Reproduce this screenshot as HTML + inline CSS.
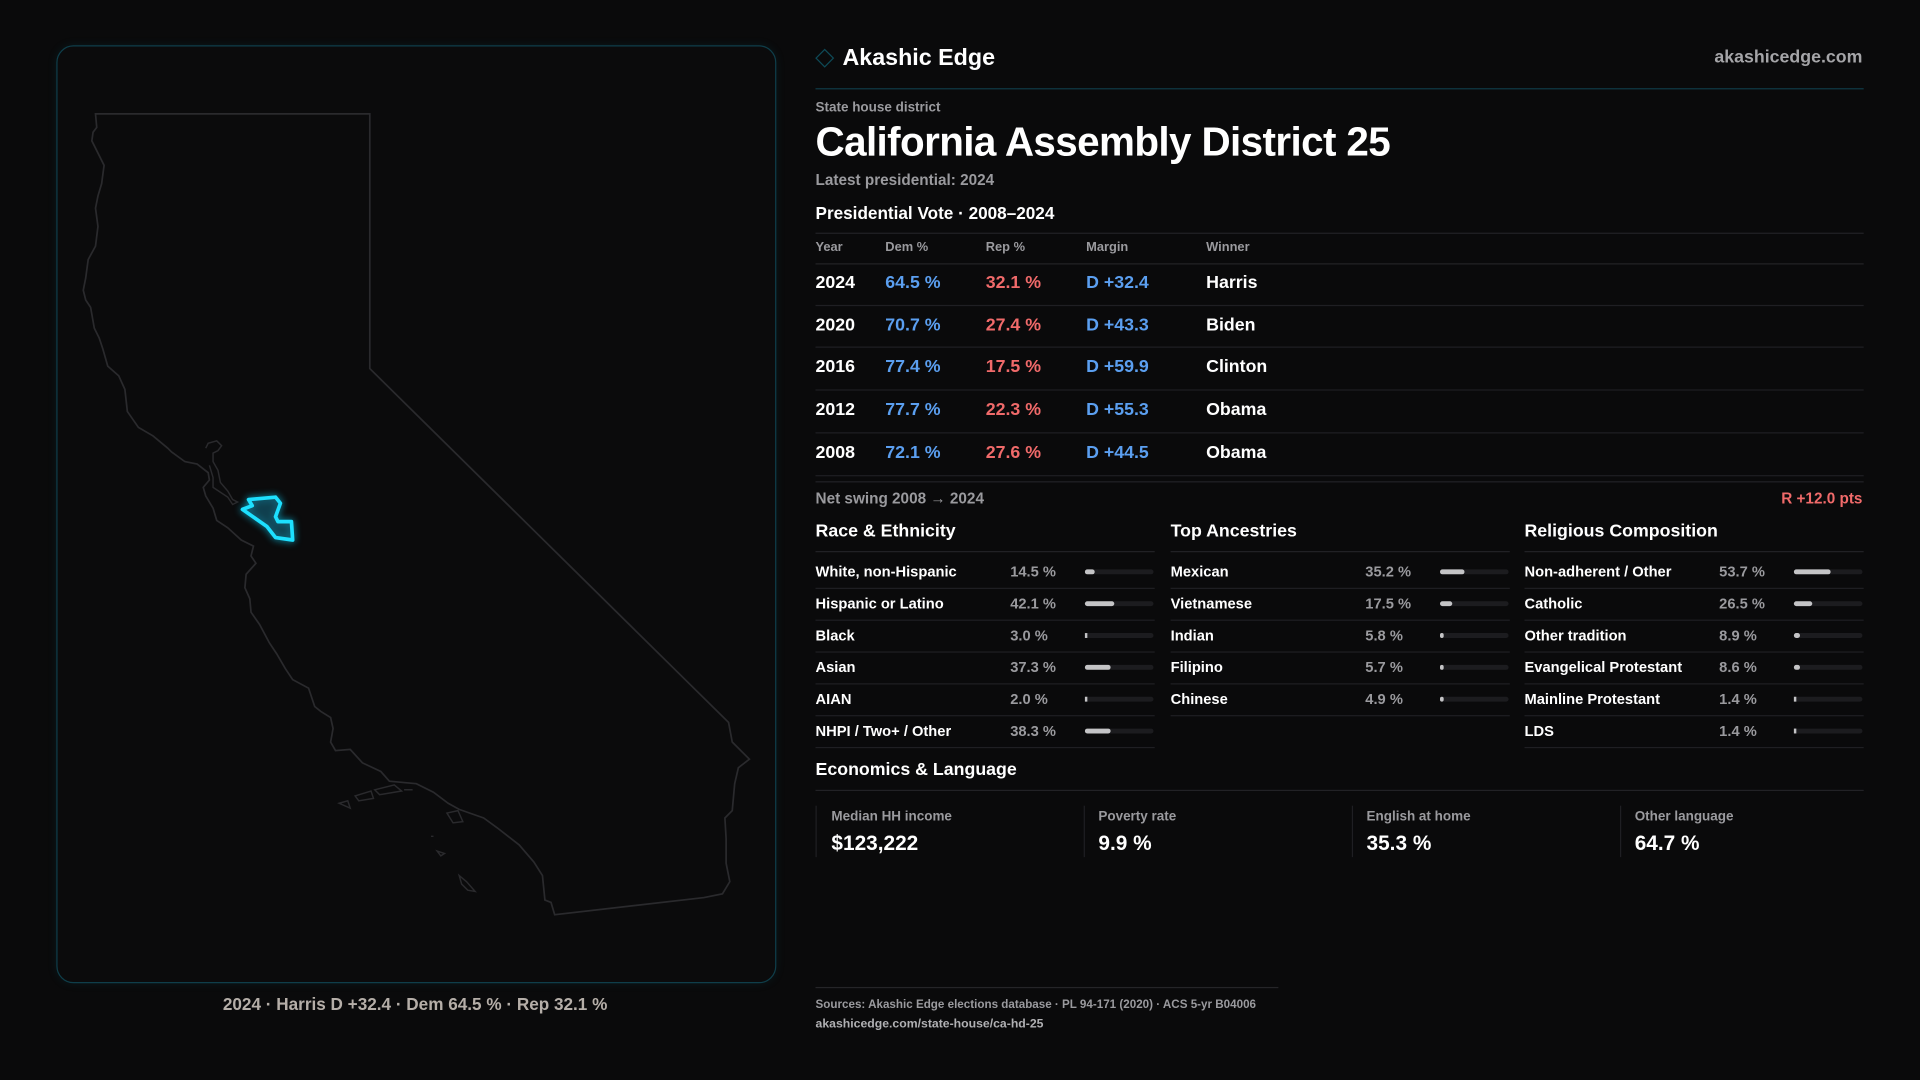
<!DOCTYPE html>
<html><head><meta charset="utf-8"><style>
html,body{margin:0;padding:0;background:#0a0a0b;width:1920px;height:1080px;overflow:hidden}
#w{position:absolute;left:0;top:0;width:1568px;height:882px;transform:scale(1.2244898);transform-origin:0 0;font-family:"Liberation Sans",sans-serif;color:#fff}
.a{position:absolute;white-space:nowrap;line-height:1}
.g{color:#9a9a9e}
.hl{position:absolute;height:1px;background:#222226}
.b{font-weight:bold}
.blue{color:#5b9ff0}.red{color:#f06a6a}
.bar{position:absolute;width:56px;height:4px;border-radius:2px;background:#1c1c1f}
.bar i{position:absolute;left:0;top:0;height:4px;border-radius:2px;background:#c4c4c6}
</style></head><body><div id="w">
<div style="position:absolute;left:46px;top:37px;width:586px;height:764px;border:1px solid #0f3e4a;border-radius:14px;background:#0b0b0c;box-shadow:0 0 8px rgba(20,120,140,0.12)"></div>
<svg style="position:absolute;left:0;top:0" width="1568" height="882" viewBox="0 0 1568 882">
<path fill="none" stroke="#2a2a2d" stroke-width="1.4" d="M78,93 L302,93 L302,301 L595,590 L598,606 L612,620 L603,627 L600,640 L598,662 L592,668 L593,685 L593,705 L596,720 L590,730 L575,733 L453,747 L450,737 L445,735 L443,715 L436,704 L424,690 L406,676 L395,668 L375,661 L366,656 L354,647 L340,640 L318,638 L311,630 L296,623 L286,612 L274,613 L270,606 L272,595 L270,586 L262,581 L257,577 L252,562 L239,555 L233,546 L226,534 L220,525 L212,510 L205,500 L204,489 L200,480 L201,469 L209,460 L205,454 L207,446 L197,441 L186,431 L177,425 L174,415 L168,405 L166,398 L171,392 L170,386 L161,379 L151,377 L140,369 L137,366 L125,356 L113,349 L104,336 L102,318 L97,307 L88,299 L84,285 L81,276 L77,268 L74,251 L70,245 L68,237 L70,227 L72,212 L78,201 L80,185 L78,170 L80,160 L83,150 L85,135 L80,125 L75,115 L76,108 L79,104 Z"/>
<path fill="none" stroke="#2a2a2d" stroke-width="1.2" d="M168,366 L170,362 L177,360 L181,364 L178,368 L174,370 L174,377 L178,384 L180,394 L186,401 L190,408 L194,410 L190,412 L186,406 L180,402 L174,398 L174,390 L171,380"/>
<path fill="none" stroke="#2a2a2d" stroke-width="1.2" d="M277,656 L284,654 L286,660 Z M290,650 L303,646 L305,652 L293,654 Z M306,645 L322,641 L328,646 L310,649 Z M330,645 L337,645 M365,664 L374,662 L378,671 L370,672 Z M357,695 L363,697 L360,699 Z M375,715 L381,720 L388,728 L382,727 L377,722 Z M352,683 L354,683"/>
<path fill="rgba(30,60,80,0.35)" stroke="#1de0ff" stroke-width="3" stroke-linejoin="round" style="filter:drop-shadow(0 0 3px #0aa8c8)" d="M203,408 L225,406 L229,411 L225,422 L227,426 L238,426 L239,441 L225,439 L218,430 L198,416 L206,413 Z"/>
</svg>
<div class="a" style="left:0;width:678px;text-align:center;top:813px;font-size:14px;font-weight:bold;color:#b5aea8">2024 · Harris D +32.4 · Dem 64.5 % · Rep 32.1 %</div>

<div class="a" style="left:668px;top:42px;width:9px;height:9px;border:1.5px solid #0e4a57;transform:rotate(45deg)"></div>
<div class="a b" style="left:688px;top:38px;font-size:19px">Akashic Edge</div>
<div class="a b g" style="right:47px;top:40px;font-size:14.5px;color:#a5a5a8">akashicedge.com</div>
<div class="hl" style="left:666px;width:856px;top:72px;background:#0f3a46"></div>
<div class="a g b" style="left:666px;top:83px;font-size:11px">State house district</div>
<div class="a b" style="left:666px;top:99px;font-size:33px;letter-spacing:-0.5px">California Assembly District 25</div>
<div class="a g b" style="left:666px;top:141px;font-size:12.5px">Latest presidential: 2024</div>
<div class="a b" style="left:666px;top:167px;font-size:14px">Presidential Vote · 2008–2024</div>
<div class="hl" style="left:666px;width:856px;top:190px"></div>
<div class="a g b" style="left:666px;top:197px;font-size:10.5px">Year</div>
<div class="a g b" style="left:723px;top:197px;font-size:10.5px">Dem %</div>
<div class="a g b" style="left:805px;top:197px;font-size:10.5px">Rep %</div>
<div class="a g b" style="left:887px;top:197px;font-size:10.5px">Margin</div>
<div class="a g b" style="left:985px;top:197px;font-size:10.5px">Winner</div>
<div class="hl" style="left:666px;width:856px;top:215px"></div>

<div style="position:absolute;left:666px;top:215px;width:856px;font-size:14.5px;font-weight:bold">
<div style="position:relative;height:34px;border-bottom:1px solid #1f1f23"><span class="a" style="left:0;top:9px">2024</span><span class="a blue" style="left:57px;top:9px">64.5 %</span><span class="a red" style="left:139px;top:9px">32.1 %</span><span class="a blue" style="left:221px;top:9px">D +32.4</span><span class="a" style="left:319px;top:9px">Harris</span></div>
<div style="position:relative;height:33px;border-bottom:1px solid #1f1f23"><span class="a" style="left:0;top:9px">2020</span><span class="a blue" style="left:57px;top:9px">70.7 %</span><span class="a red" style="left:139px;top:9px">27.4 %</span><span class="a blue" style="left:221px;top:9px">D +43.3</span><span class="a" style="left:319px;top:9px">Biden</span></div>
<div style="position:relative;height:34px;border-bottom:1px solid #1f1f23"><span class="a" style="left:0;top:9px">2016</span><span class="a blue" style="left:57px;top:9px">77.4 %</span><span class="a red" style="left:139px;top:9px">17.5 %</span><span class="a blue" style="left:221px;top:9px">D +59.9</span><span class="a" style="left:319px;top:9px">Clinton</span></div>
<div style="position:relative;height:34px;border-bottom:1px solid #1f1f23"><span class="a" style="left:0;top:9px">2012</span><span class="a blue" style="left:57px;top:9px">77.7 %</span><span class="a red" style="left:139px;top:9px">22.3 %</span><span class="a blue" style="left:221px;top:9px">D +55.3</span><span class="a" style="left:319px;top:9px">Obama</span></div>
<div style="position:relative;height:34px;border-bottom:1px solid #1f1f23"><span class="a" style="left:0;top:9px">2008</span><span class="a blue" style="left:57px;top:9px">72.1 %</span><span class="a red" style="left:139px;top:9px">27.6 %</span><span class="a blue" style="left:221px;top:9px">D +44.5</span><span class="a" style="left:319px;top:9px">Obama</span></div>
</div>
<div class="hl" style="left:666px;width:856px;top:393px"></div>
<div class="a g b" style="left:666px;top:401px;font-size:12.5px">Net swing 2008 → 2024</div>
<div class="a red b" style="right:47px;top:401px;font-size:12.5px">R +12.0 pts</div>

<div class="a b" style="left:666px;top:427px;font-size:14.5px">Race &amp; Ethnicity</div>
<div class="a b" style="left:956px;top:427px;font-size:14.5px">Top Ancestries</div>
<div class="a b" style="left:1245px;top:427px;font-size:14.5px">Religious Composition</div>

<div id="cols"></div>
<script>
var cols=[[666,[["White, non-Hispanic","14.5 %",14.5],["Hispanic or Latino","42.1 %",42.1],["Black","3.0 %",3],["Asian","37.3 %",37.3],["AIAN","2.0 %",2],["NHPI / Two+ / Other","38.3 %",38.3]]],
[956,[["Mexican","35.2 %",35.2],["Vietnamese","17.5 %",17.5],["Indian","5.8 %",5.8],["Filipino","5.7 %",5.7],["Chinese","4.9 %",4.9]]],
[1245,[["Non-adherent / Other","53.7 %",53.7],["Catholic","26.5 %",26.5],["Other tradition","8.9 %",8.9],["Evangelical Protestant","8.6 %",8.6],["Mainline Protestant","1.4 %",1.4],["LDS","1.4 %",1.4]]]];
var h="";
cols.forEach(function(c){var x=c[0];h+='<div class="hl" style="left:'+x+'px;width:277px;top:450px"></div>';
c[1].forEach(function(r,i){var y=454+i*26;
h+='<div class="a b" style="left:'+x+'px;top:'+(y+7)+'px;font-size:12px">'+r[0]+'</div>';
h+='<div class="a g b" style="left:'+(x+159)+'px;top:'+(y+7)+'px;font-size:12px">'+r[1]+'</div>';
var w=Math.max(1.5,56*r[2]/100);
h+='<div class="bar" style="left:'+(x+220)+'px;top:'+(y+11)+'px"><i style="width:'+w+'px;'+(r[2]<3.5?'border-radius:0;':'')+'"></i></div>';
h+='<div class="hl" style="left:'+x+'px;width:277px;top:'+(y+26)+'px;background:#1f1f23"></div>';});});
document.getElementById('cols').innerHTML=h;
</script>

<div class="a b" style="left:666px;top:622px;font-size:14.5px">Economics &amp; Language</div>
<div class="hl" style="left:666px;width:856px;top:645px"></div>
<div style="position:absolute;left:666px;top:658px;width:1px;height:42px;background:#1f1f23"></div>
<div style="position:absolute;left:885px;top:658px;width:1px;height:42px;background:#1f1f23"></div>
<div style="position:absolute;left:1104px;top:658px;width:1px;height:42px;background:#1f1f23"></div>
<div style="position:absolute;left:1323px;top:658px;width:1px;height:42px;background:#1f1f23"></div>
<div class="a g b" style="left:679px;top:662px;font-size:11px">Median HH income</div>
<div class="a b" style="left:679px;top:680px;font-size:17px">$123,222</div>
<div class="a g b" style="left:897px;top:662px;font-size:11px">Poverty rate</div>
<div class="a b" style="left:897px;top:680px;font-size:17px">9.9 %</div>
<div class="a g b" style="left:1116px;top:662px;font-size:11px">English at home</div>
<div class="a b" style="left:1116px;top:680px;font-size:17px">35.3 %</div>
<div class="a g b" style="left:1335px;top:662px;font-size:11px">Other language</div>
<div class="a b" style="left:1335px;top:680px;font-size:17px">64.7 %</div>

<div class="hl" style="left:666px;width:378px;top:806px;background:#252528"></div>
<div class="a g b" style="left:666px;top:816px;font-size:9.5px">Sources: Akashic Edge elections database · PL 94-171 (2020) · ACS 5-yr B04006</div>
<div class="a b" style="left:666px;top:832px;font-size:10px;color:#b0b0b3">akashicedge.com/state-house/ca-hd-25</div>
</div></body></html>
